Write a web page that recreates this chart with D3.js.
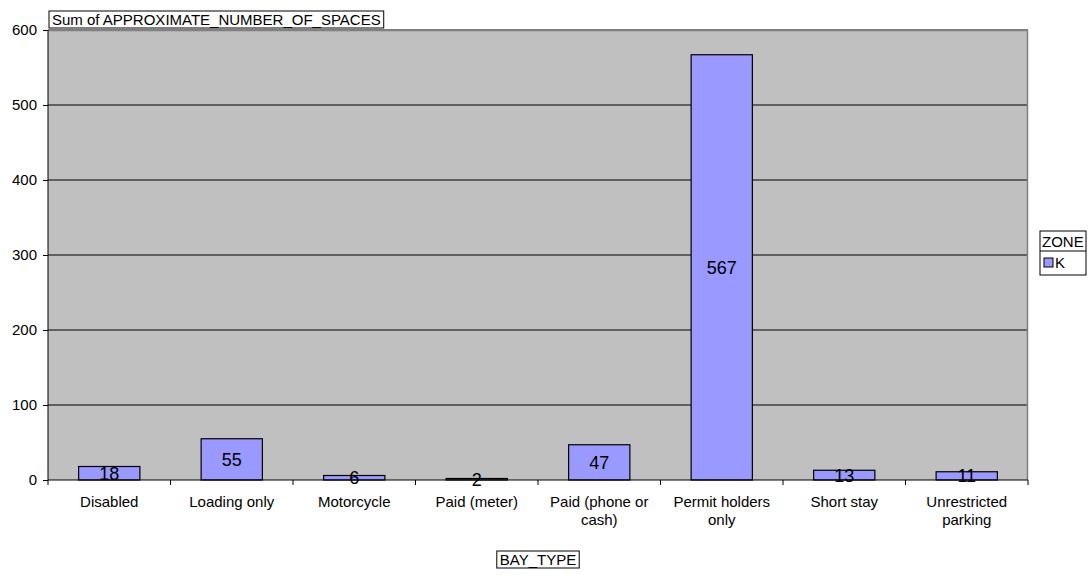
<!DOCTYPE html>
<html>
<head>
<meta charset="utf-8">
<script src="https://cdn.jsdelivr.net/npm/d3@7"></script>
<style>
  body { margin: 0; background: #fff; }
  text { font-family: "Liberation Sans", Arial, sans-serif; fill: #000; }
</style>
</head>
<body>
<svg id="chart" width="1091" height="575"></svg>
<script>
// Data
const bayTypes = ["Disabled", "Loading only", "Motorcycle", "Paid (meter)", "Paid (phone or cash)", "Permit holders only", "Short stay", "Unrestricted parking"];
const spaces = [18, 55, 6, 2, 47, 567, 13, 11];
const yTicks = [0, 100, 200, 300, 400, 500, 600];
const seriesName = "K";

const svg = d3.select("#chart");
const margin = { top: 30, right: 63, bottom: 95, left: 48 };
const width = +svg.attr("width") - margin.left - margin.right;
const height = +svg.attr("height") - margin.top - margin.bottom;
const g = svg.append("g").attr("transform", "translate(" + margin.left + "," + margin.top + ")");

const x = d3.scaleBand().domain(bayTypes).range([0, width]).paddingInner(0.5).paddingOuter(0.25);
const y = d3.scaleLinear().domain([0, 600]).range([height, 0]);

// plot background
g.append("rect").attr("width", width).attr("height", height).attr("fill", "#c0c0c0");

// gridlines
g.selectAll(".grid")
  .data(yTicks.slice(1))
  .enter().append("line")
  .attr("x1", 0).attr("x2", width)
  .attr("y1", d => y(d)).attr("y2", d => y(d))
  .attr("stroke", "#000").attr("stroke-width", 1);

// top/right border in gray
g.append("path")
  .attr("d", "M0,0.5H" + (width - 0.5) + "V" + height)
  .attr("fill", "none").attr("stroke", "#808080").attr("stroke-width", 1.5);

// bars
g.selectAll(".bar")
  .data(spaces)
  .enter().append("rect")
  .attr("class", "bar")
  .attr("x", (d, i) => x(bayTypes[i]))
  .attr("y", d => y(d))
  .attr("width", x.bandwidth())
  .attr("height", d => height - y(d))
  .attr("fill", "#9999ff")
  .attr("stroke", "#000").attr("stroke-width", 1.2);

// value labels, centered in bar
g.selectAll(".val")
  .data(spaces)
  .enter().append("text")
  .attr("x", (d, i) => x(bayTypes[i]) + x.bandwidth() / 2)
  .attr("y", d => (y(d) + height) / 2)
  .attr("dy", "0.36em")
  .attr("text-anchor", "middle")
  .style("font-size", "18px")
  .text(d => d);

// y axis
const yAxis = g.append("g").call(d3.axisLeft(y).tickValues(yTicks).tickSize(5).tickPadding(6));
yAxis.select(".domain").attr("stroke", "#000").attr("d", "M0,0V" + height);
yAxis.selectAll("text").style("font-size", "15px").style("font-family", "Liberation Sans, Arial, sans-serif");

// x axis with ticks at band boundaries
const xAxis = g.append("g").attr("transform", "translate(0," + height + ")");
xAxis.append("line").attr("x1", 0).attr("x2", width).attr("stroke", "#000");
const step = x.step();
xAxis.selectAll(".tk")
  .data(d3.range(bayTypes.length + 1))
  .enter().append("line")
  .attr("x1", i => i * step).attr("x2", i => i * step)
  .attr("y1", 0).attr("y2", 5)
  .attr("stroke", "#000");

// wrapped category labels
const wrapLines = {
  "Paid (phone or cash)": ["Paid (phone or", "cash)"],
  "Permit holders only": ["Permit holders", "only"],
  "Unrestricted parking": ["Unrestricted", "parking"]
};
bayTypes.forEach(function(name) {
  const lines = wrapLines[name] || [name];
  const t = xAxis.append("text")
    .attr("text-anchor", "middle")
    .attr("x", x(name) + x.bandwidth() / 2)
    .attr("y", 27)
    .style("font-size", "15px");
  lines.forEach((l, k) => t.append("tspan").attr("x", x(name) + x.bandwidth() / 2).attr("dy", k === 0 ? 0 : 18).text(l));
});

// boxed titles
function boxedText(px, py, str, anchor) {
  const t = svg.append("text").attr("x", px).attr("y", py).attr("text-anchor", anchor).style("font-size", "15px").text(str);
  const b = t.node().getBBox();
  svg.insert("rect", () => t.node())
    .attr("x", b.x - 3).attr("y", b.y)
    .attr("width", b.width + 6).attr("height", b.height)
    .attr("fill", "#fff").attr("stroke", "#000");
  return t;
}
boxedText(52, 25, "Sum of APPROXIMATE_NUMBER_OF_SPACES", "start");
boxedText(margin.left + width / 2, 565, "BAY_TYPE", "middle");

// legend
const lg = svg.append("g").attr("transform", "translate(1040,231)");
lg.append("rect").attr("width", 46).attr("height", 44).attr("fill", "#fff").attr("stroke", "#000");
lg.append("line").attr("x1", 0).attr("x2", 46).attr("y1", 20).attr("y2", 20).attr("stroke", "#000");
lg.append("text").attr("x", 2).attr("y", 16).style("font-size", "15px").text("ZONE");
lg.append("rect").attr("x", 4).attr("y", 27).attr("width", 9).attr("height", 9).attr("fill", "#9999ff").attr("stroke", "#000");
lg.append("text").attr("x", 15).attr("y", 37).style("font-size", "15px").text(seriesName);
</script>
</body>
</html>
